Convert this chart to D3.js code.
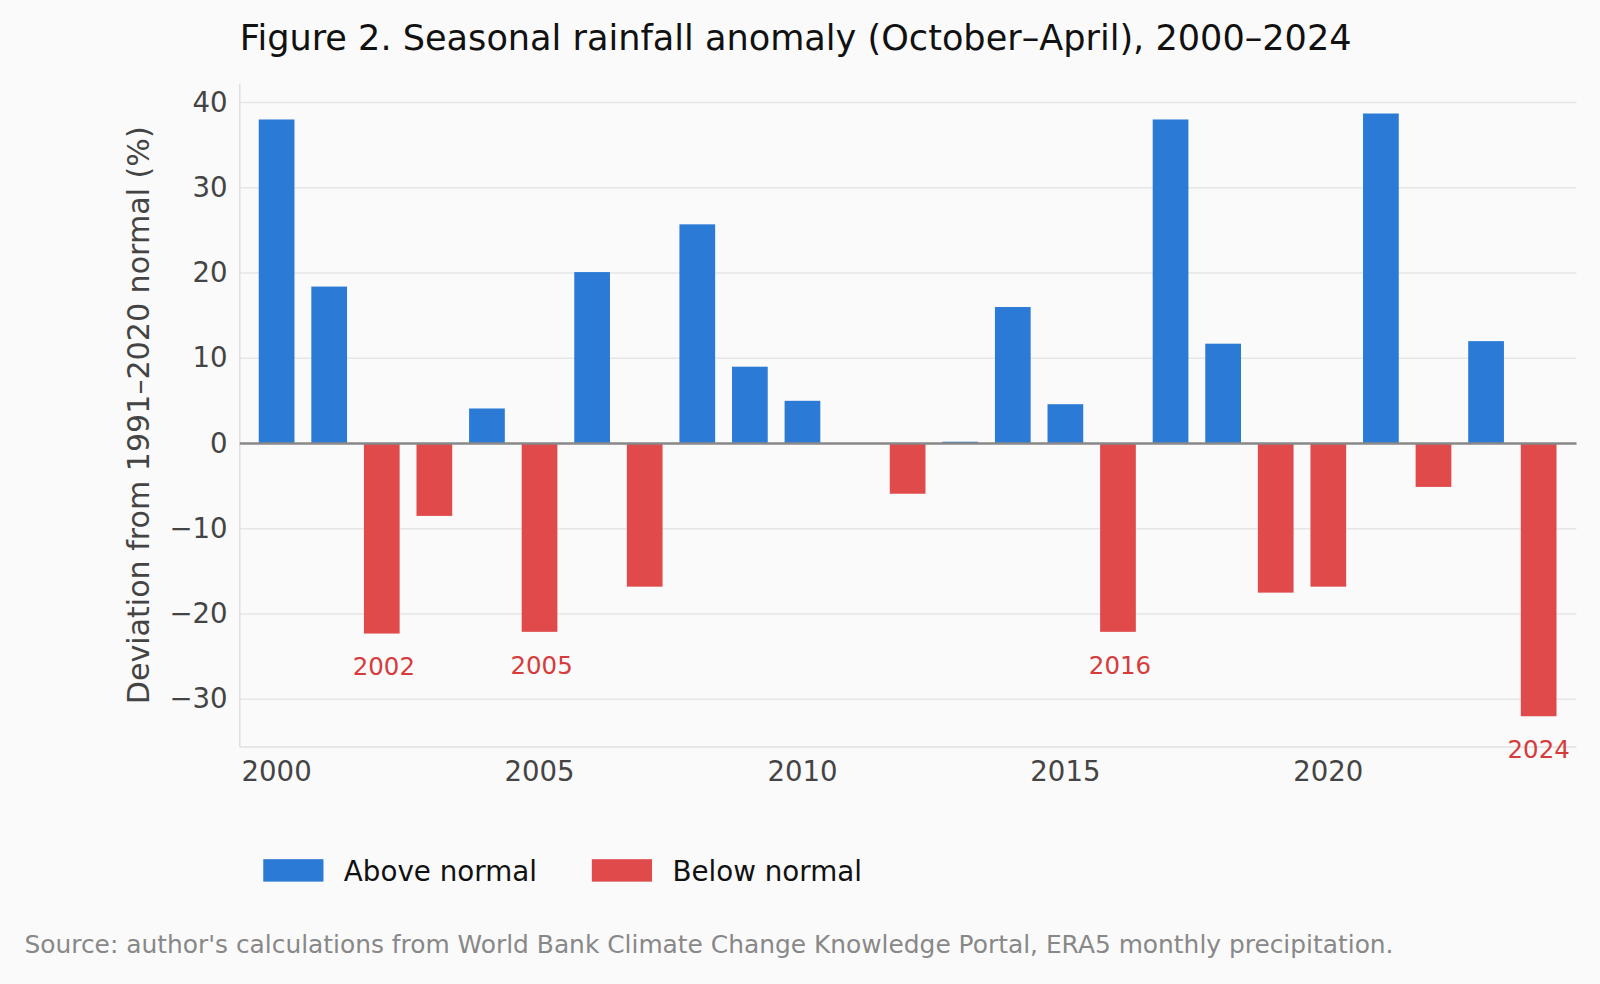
<!DOCTYPE html>
<html><head><meta charset="utf-8">
<script src="https://cdn.jsdelivr.net/npm/d3@7"></script>
<style>body{margin:0;background:#fafafa;font-family:"DejaVu Sans",sans-serif}</style>
</head><body><svg id="c" width="1600" height="984"></svg>
<script>
const years=[2000,2001,2002,2003,2004,2005,2006,2007,2008,2009,2010,2011,2012,2013,2014,2015,2016,2017,2018,2019,2020,2021,2022,2023,2024];
const values=[38.0,18.4,-22.3,-8.5,4.1,-22.1,20.1,-16.8,25.7,9.0,5.0,0.0,-5.9,0.2,16.0,4.6,-22.1,38.0,11.7,-17.5,-16.8,38.7,-5.1,12.0,-32.0];
const labelledYears=[2002,2005,2016,2024];
const yTicks=[-30,-20,-10,0,10,20,30,40];
const xTicks=[2000,2005,2010,2015,2020];
const blue="#2a7ad6",red="#e04a4a";
const root=d3.select("#c");
root.append("rect").attr("width",1600).attr("height",984).attr("fill","#fafafa");
const svg=root.append("g").attr("transform","scale(1.0204)");
const x=d3.scaleLinear().domain([1999.3,2024.72]).range([235,1545]);
const y=d3.scaleLinear().domain([-35.6,42.2]).range([732,82]);
const bw=35;
svg.append("g").selectAll("line").data(yTicks).join("line")
 .attr("x1",235).attr("x2",1545).attr("y1",d=>y(d)).attr("y2",d=>y(d))
 .attr("stroke","#e6e6e6").attr("stroke-width",1.5);
svg.append("line").attr("x1",235).attr("x2",235).attr("y1",82).attr("y2",732).attr("stroke","#e0e0e0").attr("stroke-width",1.5);
svg.append("line").attr("x1",235).attr("x2",1545).attr("y1",732).attr("y2",732).attr("stroke","#e0e0e0").attr("stroke-width",1.5);
svg.append("g").selectAll("rect").data(years).join("rect")
 .attr("x",d=>x(d)-bw/2).attr("width",bw)
 .attr("y",(d,i)=>y(Math.max(0,values[i]))).attr("height",(d,i)=>Math.abs(y(values[i])-y(0)))
 .attr("fill",(d,i)=>values[i]>=0?blue:red);
svg.append("line").attr("x1",235).attr("x2",1545).attr("y1",y(0)).attr("y2",y(0)).attr("stroke","#888").attr("stroke-width",2.5);
svg.append("g").selectAll("text").data(labelledYears).join("text")
 .attr("x",d=>x(d)+(d===2024?0:2)).attr("y",d=>y(values[years.indexOf(d)])+41)
 .attr("text-anchor","middle").attr("fill","#d63c3c").attr("font-size",24).text(d=>d);
svg.append("g").selectAll("text").data(yTicks).join("text")
 .attr("x",223).attr("y",d=>y(d)+9).attr("text-anchor","end").attr("fill","#444").attr("font-size",27)
 .text(d=>d<0?"\u2212"+Math.abs(d):d);
svg.append("g").selectAll("text").data(xTicks).join("text")
 .attr("x",d=>x(d)).attr("y",765).attr("text-anchor","middle").attr("fill","#444").attr("font-size",27).text(d=>d);
svg.append("text").attr("transform","translate(146,407) rotate(-90)").attr("text-anchor","middle")
 .attr("fill","#444").attr("font-size",29.5).text("Deviation from 1991\u20132020 normal (%)");
svg.append("text").attr("x",235).attr("y",49).attr("font-size",34.4).attr("fill","#111")
 .text("Figure 2. Seasonal rainfall anomaly (October\u2013April), 2000\u20132024");
const leg=[["Above normal",blue,258],["Below normal",red,580]];
leg.forEach(([t,c,lx])=>{
 svg.append("rect").attr("x",lx).attr("y",842).attr("width",59).attr("height",22).attr("fill",c);
 svg.append("text").attr("x",lx+79).attr("y",863).attr("font-size",27.2).attr("fill","#111").text(t);
});
svg.append("text").attr("x",24).attr("y",934).attr("font-size",24.4).attr("fill","#888")
 .text("Source: author's calculations from World Bank Climate Change Knowledge Portal, ERA5 monthly precipitation.");
</script></body></html>
